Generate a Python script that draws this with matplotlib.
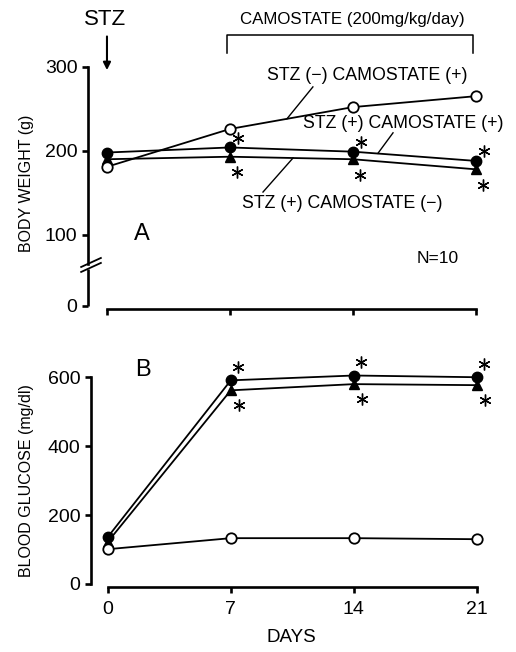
import matplotlib
matplotlib.use("Agg")
import matplotlib.pyplot as plt
from matplotlib.transforms import offset_copy, blended_transform_factory

# ---- data ----
days = [0, 7, 14, 21]
star_days = [7, 14, 21]

# body weight (g)
bw_stz_neg_cam_pos = [181, 226, 252, 265]
bw_stz_pos_cam_pos = [198, 204, 199, 188]
bw_stz_pos_cam_neg = [190, 193, 190, 178]

# blood glucose (mg/dl)
bg_stz_neg_cam_pos = [101, 133, 133, 130]
bg_stz_pos_cam_pos = [136, 591, 605, 600]
bg_stz_pos_cam_neg = [122, 562, 580, 577]

bw_ticks = [100, 200, 300]
bg_ticks = [0, 200, 400, 600]
day_ticks = [0, 7, 14, 21]

ZERO_POS = 15.5  # where "0" sits below the axis break in panel A

NARROW = ["Liberation Sans Narrow", "Liberation Sans", "DejaVu Sans"]
REG = ["Liberation Sans", "DejaVu Sans"]
plt.rcParams["font.family"] = REG

W, H = 516, 652
fig = plt.figure(figsize=(W / 100, H / 100), dpi=100)


def px_axes(left, top, right, bottom):
    return fig.add_axes([left / W, 1 - bottom / H, (right - left) / W, (bottom - top) / H])


SPW = 1.9


def style_axes(ax, ymin_bound, ymax_bound):
    for s in ["top", "right"]:
        ax.spines[s].set_visible(False)
    ax.spines["left"].set_linewidth(SPW)
    ax.spines["bottom"].set_linewidth(SPW)
    ax.spines["bottom"].set_position(("outward", 2.5))
    ax.spines["bottom"].set_bounds(0, 21)
    ax.spines["left"].set_bounds(ymin_bound, ymax_bound)
    ax.tick_params(direction="out", length=4.5, width=SPW, pad=3)
    ax.set_xticks(day_ticks)
    ax.set_xlim(-1.08, 21.8)


def draw_series(ax, s_open, s_fill, s_tri, star_up, star_dn):
    ax.plot(days, s_fill, color="black", lw=1.3, marker="o", ms=7.5,
            mfc="black", mec="black", zorder=3, clip_on=False)
    ax.plot(days, s_tri, color="black", lw=1.3, marker="^", ms=7.5,
            mfc="black", mec="black", zorder=3, clip_on=False)
    ax.plot(days, s_open, color="black", lw=1.3, marker="o", ms=7.5,
            mfc="white", mec="black", mew=1.3, zorder=4, clip_on=False)
    t_up = offset_copy(ax.transData, fig=fig, x=star_up[0], y=star_up[1], units="points")
    t_dn = offset_copy(ax.transData, fig=fig, x=star_dn[0], y=star_dn[1], units="points")
    ax.plot(star_days, s_fill[1:], ls="none", marker=(6, 2, 0), ms=8.5, mew=1.0,
            color="black", transform=t_up, clip_on=False)
    ax.plot(star_days, s_tri[1:], ls="none", marker=(6, 2, 0), ms=8.5, mew=1.0,
            color="black", transform=t_dn, clip_on=False)


# ---------------- panel A ----------------
axA = px_axes(88, 60, 490, 306)
axA.set_ylim(ZERO_POS, 308)
style_axes(axA, 65.5, 300)
axA.set_yticks([ZERO_POS] + bw_ticks)
axA.set_yticklabels(["0"] + [str(t) for t in bw_ticks], family=NARROW, fontsize=14)
axA.set_xticklabels([])

# axis break on the y spine
bt = blended_transform_factory(axA.transAxes, axA.transData)
axA.plot([0, 0], [ZERO_POS, 59.5], color="black", lw=SPW, transform=bt,
         clip_on=False, solid_capstyle="butt")
axA.plot([-0.017, 0.032], [61.9, 72.6], color="black", lw=1.3, transform=bt, clip_on=False)
axA.plot([-0.017, 0.032], [56.0, 66.7], color="black", lw=1.3, transform=bt, clip_on=False)

draw_series(axA, bw_stz_neg_cam_pos, bw_stz_pos_cam_pos, bw_stz_pos_cam_neg,
            (5.5, 7), (5.3, -11.3))

axA.text(9.1, 290, "STZ (−) CAMOSTATE (+)", fontsize=12.8, ha="left", va="center")
axA.plot([11.72, 10.24], [276, 238], color="black", lw=1.0)
axA.text(11.16, 233, "STZ (+) CAMOSTATE (+)", fontsize=12.8, ha="left", va="center")
axA.plot([16.28, 15.42], [221.4, 197], color="black", lw=1.0)
axA.text(7.68, 137, "STZ (+) CAMOSTATE (−)", fontsize=12.8, ha="left", va="center")
axA.plot([8.88, 10.59], [151, 191.5], color="black", lw=1.0)
axA.text(2.0, 101, "A", fontsize=17, ha="center", va="center")
axA.text(17.6, 72, "N=10", fontsize=12.5, ha="left", va="center")

# STZ arrow and camostate bracket
axA.text(-0.1, 356, "STZ", fontsize=16, ha="center", va="center", clip_on=False)
axA.annotate("", xy=(0, 296), xytext=(0, 336), annotation_clip=False,
             arrowprops=dict(arrowstyle="-|>", lw=1.5, color="black",
                             shrinkA=0, shrinkB=0, mutation_scale=11))
axA.plot([6.85, 6.85, 20.85, 20.85], [316.7, 338, 338, 316.7], color="black",
         lw=1.1, clip_on=False)
axA.text(13.95, 356, "CAMOSTATE (200mg/kg/day)", fontsize=12.2, ha="center",
         va="center", clip_on=False)

# ---------------- panel B ----------------
axB = px_axes(91, 360, 491, 584)
axB.set_ylim(0, 650)
style_axes(axB, 0, 600)
axB.set_xlim(-0.95, 21.8)
axB.set_yticks(bg_ticks)
axB.set_yticklabels([str(t) for t in bg_ticks], family=NARROW, fontsize=14)
axB.set_xticklabels([str(d) for d in day_ticks], family=NARROW, fontsize=14)
axB.tick_params(axis="x", pad=5)

draw_series(axB, bg_stz_neg_cam_pos, bg_stz_pos_cam_pos, bg_stz_pos_cam_neg,
            (5, 9.4), (5.8, -10.6))
axB.text(2.0, 620, "B", fontsize=17, ha="center", va="center", clip_on=False)
axB.set_xlabel("DAYS", fontsize=13.5, labelpad=8)

fig.text(27 / W, 1 - 183 / H, "BODY WEIGHT (g)", rotation=90, fontsize=11.5,
         ha="center", va="center")
fig.text(27 / W, 1 - 481 / H, "BLOOD GLUCOSE (mg/dl)", rotation=90, fontsize=11.5,
         ha="center", va="center")

fig.savefig("out.png", dpi=100)
